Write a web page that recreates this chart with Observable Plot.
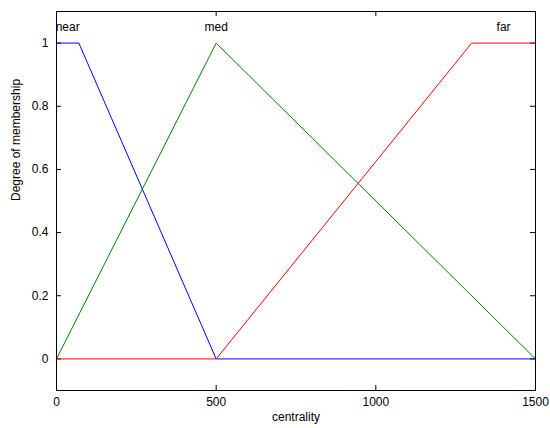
<!DOCTYPE html>
<html><head><meta charset="utf-8">
<script src="https://cdn.jsdelivr.net/npm/d3@7"></script>
<script src="https://cdn.jsdelivr.net/npm/@observablehq/plot@0.6"></script>
<style>body{margin:0;background:#fff;} svg{font-family:"Liberation Sans",Arial,sans-serif;}</style>
</head><body><div id="chart"></div>
<script>
const nearX = [0, 70, 500, 1500];
const nearY = [1, 1, 0, 0];
const medX = [0, 500, 1500];
const medY = [0, 1, 0];
const farX = [0, 500, 1300, 1500];
const farY = [0, 0, 1, 1];
const mfNames = ["near", "med", "far"];
const mfLabelX = [35, 500, 1400];
const xTicks = [0, 500, 1000, 1500];
const yTicks = [0, 0.2, 0.4, 0.6, 0.8, 1];
const colors = ["#0000ff", "#008000", "#ff0000"];

const series = [[nearX, nearY], [medX, medY], [farX, farY]];
const rows = series.flatMap(([xs, ys], i) => xs.map((x, j) => ({name: mfNames[i], x, y: ys[j]})));
const labels = mfNames.map((n, i) => ({name: n, x: mfLabelX[i]}));

const W = 550, H = 428, mL = 56, mR = 15, mT = 11, mB = 38;
const ih = H - mT - mB, iw = W - mL - mR, tk = 5;

const chart = Plot.plot({
  width: W, height: H,
  marginLeft: mL, marginRight: mR, marginTop: mT, marginBottom: mB,
  style: {fontSize: "12px", fontFamily: "Liberation Sans, Arial, sans-serif", color: "#000"},
  x: {domain: [0, 1500], ticks: xTicks, tickSize: 0, tickPadding: 7, label: null, tickFormat: d => String(d)},
  y: {domain: [-0.1, 1.1], ticks: yTicks, tickSize: 0, tickPadding: 8, label: null, tickFormat: d => String(d)},
  color: {domain: mfNames, range: colors},
  marks: [
    Plot.tickX(xTicks, {x: d => d, insetTop: ih - tk, stroke: "#000"}),
    Plot.tickX(xTicks, {x: d => d, insetBottom: ih - tk, stroke: "#000"}),
    Plot.tickY(yTicks, {y: d => d, insetRight: iw - tk, stroke: "#000"}),
    Plot.tickY(yTicks, {y: d => d, insetLeft: iw - tk, stroke: "#000"}),
    Plot.line(rows, {x: "x", y: "y", z: "name", stroke: "name", strokeWidth: 1}),
    Plot.text(labels, {x: "x", y: 1.05, text: "name", fill: "#000", fontSize: 12}),
    Plot.frame({stroke: "#000"}),
    Plot.text(["centrality"], {frameAnchor: "bottom", dy: 30, text: d => d, fill: "#000", fontSize: 12}),
    Plot.text(["Degree of membership"], {frameAnchor: "left", dx: -40, rotate: -90, text: d => d, fill: "#000", fontSize: 12})
  ]
});
document.getElementById("chart").appendChild(chart);
</script></body></html>
